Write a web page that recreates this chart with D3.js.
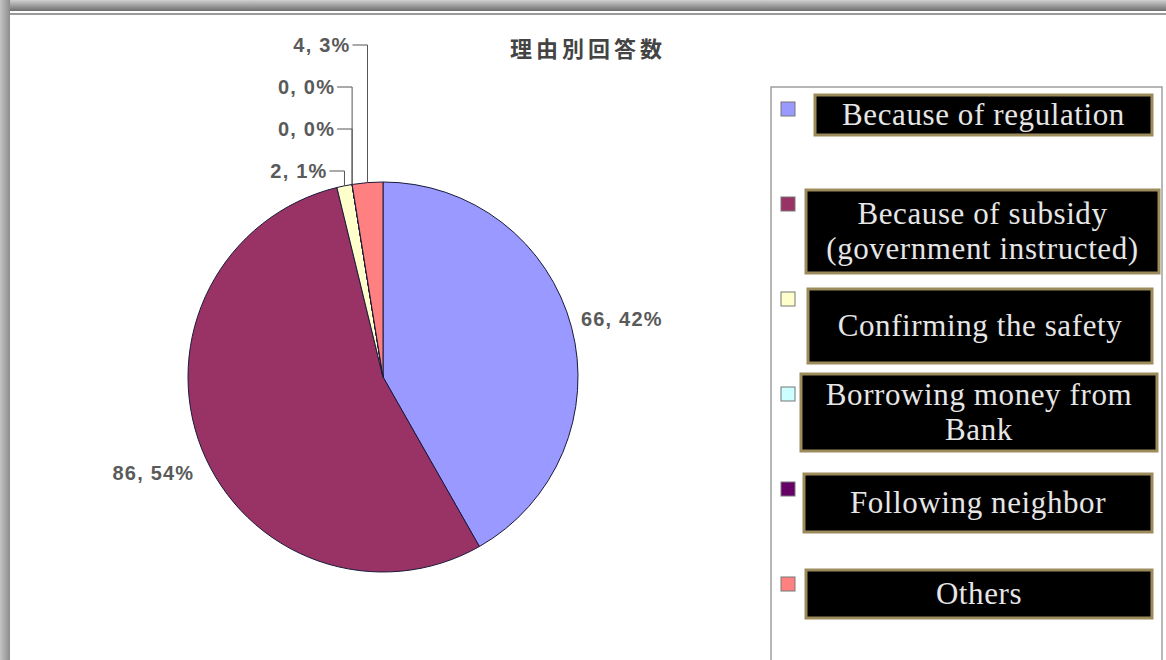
<!DOCTYPE html>
<html>
<head>
<meta charset="utf-8">
<script src="https://cdn.jsdelivr.net/npm/d3@7"></script>
<style>
  body { margin: 0; background: #fff; }
  svg { display: block; }
</style>
</head>
<body>
<div id="chart"></div>
<script>
// data
const categories = ["Because of regulation", "Because of subsidy\n(government instructed)",
  "Confirming the safety", "Borrowing money from\nBank", "Following neighbor", "Others"];
const values = [66, 86, 2, 0, 0, 4];
const colors = ["#9999ff", "#993366", "#ffffcc", "#ccffff", "#660066", "#ff8080"];
const title = "理由別回答数";

const width = 1166, height = 660;
const cx = 383, cy = 377, radius = 195;

const svg = d3.select("#chart").append("svg")
  .attr("width", width)
  .attr("height", height);

// screenshot frame: grey bar on top, grey strip on the left
const defs = svg.append("defs");
const gTop = defs.append("linearGradient").attr("id", "topbar").attr("x1", 0).attr("y1", 0).attr("x2", 0).attr("y2", 1);
gTop.append("stop").attr("offset", "0%").attr("stop-color", "#d0d0d0");
gTop.append("stop").attr("offset", "100%").attr("stop-color", "#6e6e6e");
const gLeft = defs.append("linearGradient").attr("id", "leftbar").attr("x1", 0).attr("y1", 0).attr("x2", 1).attr("y2", 0);
gLeft.append("stop").attr("offset", "0%").attr("stop-color", "#c4c4c4");
gLeft.append("stop").attr("offset", "100%").attr("stop-color", "#8c8c8c");

svg.append("rect").attr("x", 0).attr("y", 0).attr("width", width).attr("height", 11).attr("fill", "url(#topbar)");
svg.append("rect").attr("x", 0).attr("y", 13).attr("width", width).attr("height", 2).attr("fill", "#9a9a9a");
svg.append("rect").attr("x", 0).attr("y", 0).attr("width", 10).attr("height", height).attr("fill", "url(#leftbar)");

// title
svg.append("text")
  .attr("x", 588)
  .attr("y", 57)
  .attr("text-anchor", "middle")
  .style("font-family", "'Noto Sans CJK JP', sans-serif")
  .style("font-size", "22px")
  .style("font-weight", "bold")
  .style("letter-spacing", "4px")
  .style("fill", "#444")
  .text(title);

// pie
const total = d3.sum(values);
const pie = d3.pie().sort(null).value(d => d);
const arcs = pie(values);
const arc = d3.arc().innerRadius(0).outerRadius(radius);
const labelArc = d3.arc().innerRadius(radius + 52).outerRadius(radius + 52);
const pct = v => Math.round(v / total * 100) + "%";

const g = svg.append("g").attr("transform", "translate(" + cx + "," + cy + ")");

g.selectAll("path.slice")
  .data(arcs)
  .enter().append("path")
  .attr("class", "slice")
  .attr("d", arc)
  .style("fill", (d, i) => colors[i])
  .style("stroke", "#1a1a3a")
  .style("stroke-width", 1);

const labelStyle = sel => sel
  .style("font-family", "'Liberation Sans', Arial, sans-serif")
  .style("font-size", "20px")
  .style("font-weight", "bold")
  .style("letter-spacing", "1.2px")
  .style("fill", "#5a5a5a");

// big slices: label outside the slice
const big = arcs.filter(d => d.value / total >= 0.05);
g.selectAll("text.big")
  .data(big)
  .enter().append("text")
  .attr("class", "big")
  .attr("transform", d => "translate(" + labelArc.centroid(d) + ")")
  .attr("text-anchor", "middle")
  .attr("dy", "0.6em")
  .call(labelStyle)
  .text(d => d.value + ", " + pct(d.value));

// small slices: stacked labels above with leader lines
const small = arcs.filter(d => d.value / total < 0.05).reverse();
const stackTop = -332, stackStep = 42;
small.forEach((d, k) => {
  const mid = (d.startAngle + d.endAngle) / 2;
  const px = radius * Math.sin(mid);
  const py = -radius * Math.cos(mid);
  const ly = stackTop + k * stackStep;
  const tx = px - 17;
  g.append("path")
    .attr("d", "M" + (tx + 2) + "," + ly + "H" + px + "V" + py)
    .style("fill", "none")
    .style("stroke", "#555")
    .style("stroke-width", 1);
  g.append("text")
    .attr("x", tx)
    .attr("y", ly)
    .attr("text-anchor", "end")
    .attr("dy", "0.35em")
    .call(labelStyle)
    .text(d.value + ", " + pct(d.value));
});

// legend frame
svg.append("rect")
  .attr("x", 771).attr("y", 87)
  .attr("width", 391).attr("height", 600)
  .style("fill", "#fff")
  .style("stroke", "#a0a0a0")
  .style("stroke-width", 1.5);

const legendY = d3.scalePoint().domain(d3.range(categories.length)).range([102, 577]);

svg.selectAll("rect.swatch")
  .data(categories)
  .enter().append("rect")
  .attr("class", "swatch")
  .attr("x", 781)
  .attr("y", (d, i) => legendY(i))
  .attr("width", 14).attr("height", 14)
  .style("fill", (d, i) => colors[i])
  .style("stroke", "#777")
  .style("stroke-width", 1);

// black caption boxes pasted over the legend entries (layout, not data)
const boxes = [
  { x: 815, y: 95, w: 337, h: 40 },
  { x: 806, y: 190, w: 353, h: 83 },
  { x: 808, y: 289, w: 344, h: 74 },
  { x: 801, y: 374, w: 356, h: 77 },
  { x: 804, y: 474, w: 348, h: 58 },
  { x: 806, y: 570, w: 346, h: 48 }
];

const cap = svg.selectAll("g.cap")
  .data(categories)
  .enter().append("g")
  .attr("class", "cap");

cap.append("rect")
  .attr("x", (d, i) => boxes[i].x)
  .attr("y", (d, i) => boxes[i].y)
  .attr("width", (d, i) => boxes[i].w)
  .attr("height", (d, i) => boxes[i].h)
  .style("fill", "#000")
  .style("stroke", "#9c8c5c")
  .style("stroke-width", 3);

cap.each(function (d, i) {
  const lines = d.split("\n");
  const b = boxes[i];
  const lh = 35;
  const y0 = b.y + b.h / 2 - (lines.length - 1) * lh / 2;
  const t = d3.select(this).append("text")
    .attr("text-anchor", "middle")
    .style("font-family", "'Liberation Serif', 'Times New Roman', serif")
    .style("font-size", "31px")
    .style("letter-spacing", "0.6px")
    .style("fill", "#e6e6e6");
  lines.forEach((s, j) => {
    t.append("tspan")
      .attr("x", b.x + b.w / 2)
      .attr("y", y0 + j * lh)
      .attr("dy", "0.33em")
      .text(s);
  });
});
</script>
</body>
</html>
